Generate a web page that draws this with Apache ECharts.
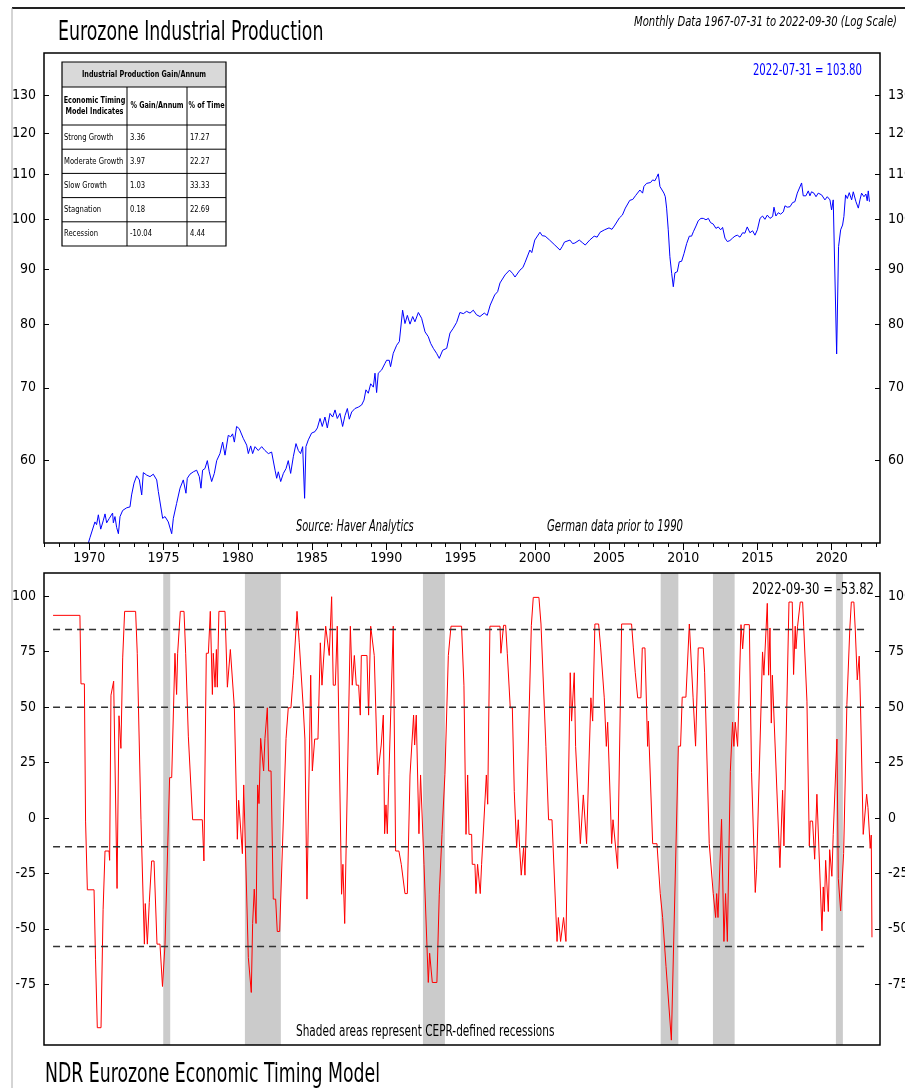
<!DOCTYPE html>
<html><head><meta charset="utf-8">
<script src="https://cdn.jsdelivr.net/npm/echarts@6/dist/echarts.min.js"></script>
<style>html,body{margin:0;padding:0;background:#fff}#c{width:905px;height:1088px}</style>
</head><body><div id="c"></div>
<script>
// ---------- DATA ----------
const title = 'Eurozone Industrial Production';
const subtitle = 'Monthly Data 1967-07-31 to 2022-09-30 (Log Scale)';
const ipLastLabel = '2022-07-31 = 103.80';
const etmLastLabel = '2022-09-30 = -53.82';
const bottomTitle = 'NDR Eurozone Economic Timing Model';
const sourceNote = 'Source: Haver Analytics';
const germanNote = 'German data prior to 1990';
const shadeNote = 'Shaded areas represent CEPR-defined recessions';

const yearTicks = [1970,1975,1980,1985,1990,1995,2000,2005,2010,2015,2020];
const ipTicks = [60,70,80,90,100,110,120,130];
const etmTicks = [-75,-50,-25,0,25,50,75,100];
const etmThresholds = [85, 50, -13, -58];

const tableTitle = 'Industrial Production Gain/Annum';
const tableHeader = ['Economic Timing\nModel Indicates', '% Gain/Annum', '% of Time'];
const tableRows = [
  ['Strong Growth', '3.36', '17.27'],
  ['Moderate Growth', '3.97', '22.27'],
  ['Slow Growth', '1.03', '33.33'],
  ['Stagnation', '0.18', '22.69'],
  ['Recession', '-10.04', '4.44']
];

// CEPR recessions (decimal years)
const recessions = [[1974.98,1975.45],[1980.48,1982.9],[1992.47,1993.95],[2008.48,2009.67],[2012.0,2013.46],[2020.28,2020.75]];

// Industrial production index [year, value]
const ipSeries = [
[1967.54,45.5],[1968.5,47.5],[1969.5,49.6],[1969.9,50.2],
[1970.05,51.0],[1970.38,52.7],[1970.49,52.4],[1970.61,53.5],[1970.77,51.9],[1970.95,52.9],[1971.06,53.6],[1971.17,52.6],[1971.35,53.1],[1971.57,53.7],[1971.62,52.6],[1971.73,53.3],[1971.84,52.1],[1971.96,51.4],
[1972.07,53.3],[1972.25,54.0],[1972.52,54.3],[1972.74,54.4],[1972.85,55.8],[1973.01,57.2],[1973.19,58.1],[1973.37,57.6],[1973.53,55.8],[1973.64,58.5],[1973.86,58.2],[1974.09,58.0],[1974.31,58.3],[1974.54,57.6],[1974.65,56.2],[1974.76,56.0],[1974.94,53.1],
[1975.10,53.3],[1975.32,52.7],[1975.55,51.4],[1975.66,53.1],[1975.88,54.8],[1976.11,56.6],[1976.33,57.6],[1976.51,56.0],[1976.60,57.8],[1976.78,58.3],[1977.01,58.6],[1977.23,58.8],[1977.41,58.0],[1977.52,56.6],[1977.63,58.8],[1977.79,59.0],[1977.95,60.0],
[1978.08,58.6],[1978.24,57.4],[1978.42,58.4],[1978.58,60.0],[1978.80,60.9],[1978.98,62.4],[1979.14,60.7],[1979.36,63.3],[1979.52,63.1],[1979.65,63.5],[1979.77,62.4],[1979.92,64.5],[1980.10,64.2],[1980.37,62.9],[1980.60,62.0],[1980.71,60.9],[1980.87,61.9],
[1981.00,60.9],[1981.16,61.8],[1981.38,61.3],[1981.61,61.8],[1981.83,61.3],[1982.06,60.9],[1982.28,61.1],[1982.51,58.8],[1982.62,57.8],[1982.73,58.6],[1982.89,57.4],[1983.07,58.4],[1983.25,59.0],[1983.40,60.0],[1983.56,58.4],[1983.74,60.5],[1983.92,62.2],
[1984.08,61.3],[1984.23,60.9],[1984.37,61.8],[1984.50,55.4],[1984.59,61.8],[1984.75,62.7],[1984.97,63.6],[1985.20,63.8],[1985.36,64.3],[1985.54,65.6],[1985.69,64.5],[1985.87,65.8],[1986.03,64.3],[1986.21,66.3],[1986.39,65.8],[1986.55,66.8],[1986.70,65.6],[1986.88,66.3],
[1987.06,64.5],[1987.22,66.0],[1987.38,67.0],[1987.51,65.5],[1987.67,66.5],[1987.89,67.0],[1988.12,67.2],[1988.34,67.5],[1988.50,68.2],[1988.63,69.7],[1988.79,69.2],[1988.95,70.6],[1989.13,70.1],[1989.24,72.2],[1989.35,69.3],[1989.46,72.2],[1989.69,72.7],[1989.91,73.7],
[1990.02,74.2],[1990.20,74.2],[1990.29,73.2],[1990.47,75.3],[1990.70,76.6],[1990.88,77.2],[1991.01,77.3],[1991.10,82.5],[1991.26,80.2],[1991.42,81.6],[1991.60,80.1],[1991.78,81.4],[1991.93,80.5],[1992.16,82.1],[1992.38,81.1],[1992.61,78.8],[1992.83,78.0],[1992.99,76.9],
[1993.17,76.1],[1993.39,75.3],[1993.57,74.5],[1993.80,75.8],[1994.07,76.1],[1994.29,78.6],[1994.51,79.4],[1994.74,80.4],[1994.96,82.1],[1995.19,81.9],[1995.41,82.3],[1995.64,82.0],[1995.86,82.5],[1996.08,81.7],[1996.31,81.4],
[1996.6,82.0],[1996.8,81.6],[1997.0,83.4],[1997.3,85.2],[1997.5,85.8],[1997.66,87.4],[1998.0,88.9],[1998.3,89.8],[1998.5,89.2],[1998.67,88.5],[1999.0,89.8],[1999.2,90.3],[1999.35,91.3],[1999.67,93.7],[1999.8,93.2],[2000.0,95.7],[2000.35,97.3],[2000.5,96.6],[2000.7,96.5],[2001.0,95.7],[2001.35,94.7],[2001.7,93.7],[2001.85,94.4],[2002.0,95.3],[2002.37,95.7],[2002.55,95.0],[2002.7,95.1],
[2003.0,95.7],[2003.2,95.2],[2003.4,94.7],[2003.7,95.7],[2004.0,96.5],[2004.2,96.3],[2004.4,97.3],[2004.7,97.8],[2005.0,98.2],[2005.2,97.9],[2005.4,98.8],[2005.7,100.3],[2005.9,100.9],[2006.1,102.4],[2006.4,104.1],[2006.6,104.3],[2006.8,105.2],
[2007.08,106.4],[2007.26,105.7],[2007.35,107.2],[2007.53,107.9],[2007.65,108.3],[2007.80,108.1],[2007.94,108.7],[2008.09,108.5],[2008.21,109.3],[2008.32,110.1],[2008.43,107.2],[2008.54,106.8],[2008.70,105.7],[2008.79,104.9],[2008.88,102.4],[2008.99,97.8],
[2009.10,92.4],[2009.22,89.2],[2009.33,86.7],[2009.44,89.3],[2009.60,89.5],[2009.73,91.4],[2009.89,91.5],[2010.05,93.0],[2010.23,95.0],[2010.41,96.5],[2010.56,96.5],[2010.68,97.4],[2010.86,98.6],[2011.01,99.7],[2011.19,100.2],[2011.35,100.2],[2011.53,99.9],[2011.69,100.2],[2011.84,99.3],
[2012.02,99.0],[2012.20,98.1],[2012.36,98.4],[2012.52,97.8],[2012.65,98.3],[2012.81,96.1],[2012.97,95.4],[2013.14,95.6],[2013.32,96.1],[2013.48,96.5],[2013.64,96.7],[2013.82,96.3],[2014.0,97.2],[2014.15,97.1],[2014.31,98.4],[2014.49,97.2],[2014.67,97.6],[2014.83,96.7],[2014.99,97.8],
[2015.17,100.2],[2015.34,100.7],[2015.50,100.0],[2015.66,100.9],[2015.84,100.2],[2016.02,100.6],[2016.11,102.6],[2016.24,100.7],[2016.40,101.4],[2016.56,101.1],[2016.74,101.6],[2016.85,102.9],[2017.0,102.6],[2017.19,102.7],[2017.36,103.6],[2017.52,103.8],[2017.68,105.7],[2017.81,105.3],[2017.97,108.0],
[2018.08,105.1],[2018.26,105.1],[2018.42,106.2],[2018.53,105.1],[2018.64,106.0],[2018.80,105.7],[2018.94,104.9],[2019.09,105.7],[2019.32,105.3],[2019.54,104.2],[2019.70,104.9],[2019.88,104.2],[2019.99,102.0],[2020.10,104.2],[2020.22,104.2],[2020.33,75.2],[2020.46,94.4],[2020.60,97.8],[2020.73,98.8],[2020.82,100.6],[2020.93,105.3],
[2021.05,104.5],[2021.18,105.8],[2021.34,104.2],[2021.45,106.0],[2021.63,103.8],[2021.79,102.4],[2021.90,104.2],[2022.01,105.7],[2022.17,104.9],[2022.30,105.5],[2022.39,104.0],[2022.46,106.2],[2022.54,103.8]
];

// Economic Timing Model [year, value]
const etmSeries = [
[1967.56,91.4],[1969.37,91.4],[1969.44,60.5],[1969.67,60.5],[1969.75,-1.4],[1969.87,-32.4],[1970.32,-32.4],[1970.42,-63.7],[1970.54,-94.6],[1970.79,-94.6],[1970.93,-41.4],[1971.06,-14.9],[1971.33,-14.9],[1971.37,-19.1],[1971.46,55.4],[1971.53,55.4],[1971.64,61.7],[1971.71,61.7],[1971.87,-31.8],
[1972.0,46.1],[1972.13,31.4],[1972.25,72.2],[1972.29,72.2],[1972.38,93.2],[1973.12,93.2],[1973.23,74.3],[1973.30,74.3],[1973.48,-0.6],[1973.55,-0.6],[1973.71,-56.9],[1973.77,-38.6],[1973.91,-56.9],[1974.04,-38.1],[1974.11,-38.1],[1974.20,-19.4],[1974.36,-19.4],[1974.56,-56.9],[1974.76,-56.9],[1974.93,-76.0],
[1975.10,-56.9],[1975.23,-56.9],[1975.41,18.2],[1975.55,18.2],[1975.77,74.3],[1975.88,55.7],[1975.95,74.3],[1976.04,74.3],[1976.13,93.2],[1976.38,93.2],[1976.49,74.3],[1976.56,74.3],[1976.67,36.9],[1976.80,36.9],[1976.96,-0.8],[1977.61,-0.8],[1977.72,-19.4],[1977.88,74.3],
[1978.02,74.3],[1978.15,93.2],[1978.29,55.7],[1978.35,74.3],[1978.47,59.0],[1978.56,76.0],[1978.62,59.0],[1978.73,93.2],[1979.14,93.2],[1979.30,59.0],[1979.39,59.0],[1979.50,76.0],[1979.61,76.0],[1979.77,49.7],[1979.97,-9.6],[1980.06,8.0],[1980.15,8.0],[1980.31,-16.1],[1980.40,14.9],
[1980.71,-62.9],[1980.80,-62.9],[1980.91,-78.7],[1981.0,-47.6],[1981.11,-32.1],[1981.23,-47.6],[1981.34,14.9],[1981.43,6.5],[1981.54,35.9],[1981.63,35.9],[1981.74,21.2],[1981.83,35.9],[1981.90,35.9],[1981.99,49.7],[1982.08,21.2],[1982.24,21.2],[1982.39,-36.6],[1982.55,-36.6],[1982.66,-51.2],[1982.82,-51.2],
[1983.25,35.9],[1983.31,35.9],[1983.40,49.7],[1983.58,49.7],[1983.74,64.4],[1983.87,64.4],[1983.99,93.2],[1984.14,79.0],[1984.21,79.0],[1984.41,49.7],[1984.52,35.6],[1984.66,-36.6],[1984.91,64.4],[1985.02,21.2],[1985.11,21.2],[1985.18,35.6],[1985.40,35.6],[1985.56,79.0],[1985.67,59.9],[1985.80,59.9],[1985.92,86.5],
[1986.05,86.5],[1986.16,73.3],[1986.32,99.8],[1986.43,59.9],[1986.57,59.9],[1986.70,86.5],[1986.99,-34.4],[1987.08,-20.9],[1987.20,-47.6],[1987.58,86.5],[1987.71,59.9],[1987.85,73.3],[1987.98,59.9],[1988.14,59.9],[1988.25,46.4],[1988.32,73.3],[1988.70,73.3],[1988.81,46.4],[1988.95,86.5],
[1989.08,86.5],[1989.19,73.3],[1989.42,19.4],[1989.55,19.4],[1989.66,32.9],[1989.80,46.4],[1989.89,-7.1],[1989.98,5.9],[1990.07,-7.1],[1990.18,19.7],[1990.47,86.5],[1990.63,-14.9],[1990.85,-14.9],[1991.01,-20.9],[1991.12,-20.9],[1991.26,-34.1],[1991.42,-34.1],[1991.60,19.4],[1991.71,19.4],[1991.84,46.4],[1991.91,32.9],
[1992.02,46.4],[1992.20,-7.1],[1992.31,19.4],[1992.43,19.4],[1992.54,-20.9],[1992.65,-20.9],[1992.83,-74.2],[1992.92,-61.0],[1993.01,-61.0],[1993.10,-74.2],[1993.41,-74.2],[1993.57,-34.4],[1993.64,-34.4],[1993.75,-7.4],[1993.84,-7.4],[1993.95,19.7],[1994.18,73.3],[1994.27,73.3],[1994.36,86.5],
[1995.07,86.5],[1995.23,59.9],[1995.30,59.9],[1995.37,-7.4],[1995.48,19.4],[1995.57,-7.4],[1995.75,-7.4],[1995.79,-20.9],[1995.97,-20.9],[1996.04,-34.1],[1996.15,-20.9],[1996.33,-34.1],[1996.42,-20.9],[1996.49,-20.9],[1996.74,19.4],[1996.83,6.2],[1996.98,86.5],
[1997.66,86.5],[1997.72,74.3],[1997.79,74.3],[1997.90,86.9],[1998.04,86.9],[1998.15,74.3],[1998.24,74.3],[1998.35,49.7],[1998.49,49.7],[1998.62,11.9],[1998.69,11.9],[1998.78,-13.4],[1998.89,-0.8],[1998.98,-13.4],[1999.09,-25.8],[1999.16,-25.8],[1999.25,-13.4],[1999.34,-25.8],[1999.77,86.9],[1999.90,99.5],
[2000.28,99.5],[2000.42,87.5],[2000.51,87.5],[2000.75,32.3],[2000.84,32.3],[2000.93,-0.8],[2001.16,-0.8],[2001.50,-55.7],[2001.59,-44.9],[2001.65,-44.9],[2001.74,-55.7],[2001.81,-55.7],[2001.94,-44.9],[2002.03,-44.9],[2002.10,-55.7],[2002.39,65.5],[2002.48,43.7],[2002.66,65.5],[2002.75,32.3],[2002.82,32.3],
[2003.07,-11.6],[2003.27,10.4],[2003.38,10.4],[2003.49,-11.6],[2003.61,-11.6],[2003.78,54.2],[2003.90,43.7],[2004.05,87.5],[2004.30,87.5],[2004.44,76.7],[2004.53,76.7],[2004.68,54.2],[2004.75,54.2],[2004.82,32.3],[2004.91,43.2],[2005.18,-11.6],[2005.27,-0.8],[2005.40,-0.8],[2005.58,-22.8],[2005.85,87.5],
[2006.52,87.5],[2006.64,76.7],[2006.77,65.5],[2006.88,65.5],[2006.93,54.2],[2007.15,54.2],[2007.24,76.7],[2007.42,76.7],[2007.53,49.7],[2007.60,32.3],[2007.65,43.7],[2007.94,-11.6],[2008.23,-11.6],[2008.45,-34.1],[2008.61,-44.9],[2008.84,-67.0],[2009.20,-100.2],[2009.67,32.4],[2009.82,32.4],
[2009.93,54.5],[2010.18,54.5],[2010.41,87.5],[2010.66,54.5],[2010.83,32.4],[2011.01,76.7],[2011.35,76.7],[2011.44,65.5],[2011.75,-11.6],[2011.84,-11.6],[2012.02,-34.1],[2012.09,-34.1],[2012.18,-44.9],[2012.25,-34.1],[2012.34,-44.9],[2012.58,-0.6],[2012.74,-55.7],[2012.85,-34.1],[2012.97,-55.7],[2013.06,-55.7],
[2013.17,20.9],[2013.23,20.9],[2013.32,43.2],[2013.41,32.3],[2013.50,43.2],[2013.59,43.2],[2013.66,32.3],[2013.75,32.3],[2013.89,87.2],[2014.0,76.3],[2014.11,87.2],[2014.45,87.2],[2014.56,86.3],[2014.60,20.4],[2014.69,20.4],[2014.85,-33.6],[2014.94,-23.1],[2015.03,-23.1],
[2015.34,74.9],[2015.43,64.4],[2015.55,64.4],[2015.66,96.8],[2015.75,64.4],[2015.84,85.7],[2015.93,42.8],[2016.0,64.4],[2016.51,-22.4],[2016.58,-22.4],[2016.69,12.5],[2016.78,-12.6],[2017.12,97.4],[2017.34,97.4],[2017.43,64.7],[2017.54,86.5],[2017.59,76.3],[2017.70,86.5],[2017.81,86.5],[2017.88,97.4],
[2018.04,97.4],[2018.11,86.5],[2018.20,86.5],[2018.33,52.7],[2018.49,-12.6],[2018.55,-1.4],[2018.71,-1.4],[2018.85,-18.6],[2019.0,10.7],[2019.34,-50.9],[2019.43,-31.1],[2019.50,-42.2],[2019.59,-19.1],[2019.77,-42.2],[2019.86,-14.3],[2020.01,-26.3],[2020.10,-7.4],[2020.19,-7.4],
[2020.35,35.6],[2020.44,-27.3],[2020.60,-41.9],[2020.80,-16.1],[2021.02,51.2],[2021.22,85.7],[2021.32,97.4],[2021.49,97.4],[2021.58,85.7],[2021.72,62.3],[2021.85,73.0],[2021.94,49.7],[2022.12,-7.4],[2022.35,10.7],[2022.44,4.7],[2022.59,-13.7],[2022.66,-7.7],[2022.71,-53.82]
];

const thresholdSpan = [1967.56, 2022.45];

// ---------- CHART ----------
const FONT = "'Liberation Sans Narrow','DejaVu Sans Condensed','Arial Narrow',sans-serif";
const chart = echarts.init(document.getElementById('c'), null, {renderer: 'canvas'});

const X_MIN = 1966.95, X_MAX = 2023.25;
const L = Math.log10;
const allYears = [];
for (let y = 1967; y <= 2023; y++) allYears.push(y);

const yLabelStyle = {fontFamily: FONT, fontSize: 14, color: '#000'};

function ipAxis(pos) {
  return {
    type: 'value', gridIndex: 0, position: pos, min: L(50.4), max: L(142.2),
    splitLine: {show: false}, axisLine: {show: false},
    axisTick: {show: true, inside: true, length: 5, lineStyle: {color: '#000'}, customValues: ipTicks.map(L)},
    axisLabel: Object.assign({margin: 8, customValues: ipTicks.map(L), formatter: v => String(Math.round(Math.pow(10, v)))}, yLabelStyle)
  };
}
function etmAxis(pos) {
  return {
    type: 'value', gridIndex: 1, position: pos, min: -102.4, max: 110.5,
    splitLine: {show: false}, axisLine: {show: false},
    axisTick: {show: true, inside: true, length: 5, lineStyle: {color: '#000'}, customValues: etmTicks},
    axisLabel: Object.assign({margin: 8, customValues: etmTicks}, yLabelStyle)
  };
}

const series = [
  {type: 'line', xAxisIndex: 0, yAxisIndex: 0, data: ipSeries.map(p => [p[0], L(p[1])]),
   showSymbol: false, clip: true, lineStyle: {color: '#0000ff', width: 1}, z: 5},
  {type: 'line', xAxisIndex: 2, yAxisIndex: 2, data: etmSeries,
   showSymbol: false, clip: true, lineStyle: {color: '#ff0000', width: 1}, z: 5,
   markArea: {silent: true, itemStyle: {color: '#cbcbcb'},
     data: recessions.map(r => [{xAxis: r[0]}, {xAxis: r[1]}])}}
];
etmThresholds.forEach(t => series.push({
  type: 'line', xAxisIndex: 2, yAxisIndex: 2, data: [[thresholdSpan[0], t], [thresholdSpan[1], t]],
  showSymbol: false, silent: true, lineStyle: {color: '#333', width: 1.5, type: [7, 5]}, z: 6
}));

// text helper with horizontal condensing
const txt = (t, x, y, font, color, align, sx) => ({type: 'text', x, y, z: 20, scaleX: sx || 1, originX: 0, originY: 0,
  style: {text: t, x: 0, y: 0, font, fill: color || '#000', textAlign: align || 'left', textVerticalAlign: 'middle', lineHeight: 11}});

// table graphics
const tbl = [];
const tx = 62, ty = 62, cw = [65, 60, 39], rh0 = 25, rh1 = 38, rh = 24.2;
const tw = cw[0] + cw[1] + cw[2];
const th = rh0 + rh1 + rh * tableRows.length;
const TS = 0.8;
tbl.push({type: 'rect', shape: {x: tx, y: ty, width: tw, height: rh0}, style: {fill: '#d9d9d9'}, z: 19});
tbl.push({type: 'rect', shape: {x: tx, y: ty, width: tw, height: th}, style: {fill: 'none', stroke: '#000', lineWidth: 1.2}, z: 21});
tbl.push({type: 'line', shape: {x1: tx, y1: ty + rh0, x2: tx + tw, y2: ty + rh0}, style: {stroke: '#000', lineWidth: 1}, z: 21});
let yy = ty + rh0 + rh1;
for (let i = 0; i < tableRows.length; i++) {
  tbl.push({type: 'line', shape: {x1: tx, y1: yy, x2: tx + tw, y2: yy}, style: {stroke: '#000', lineWidth: 1}, z: 21});
  yy += rh;
}
tbl.push({type: 'line', shape: {x1: tx + cw[0], y1: ty + rh0, x2: tx + cw[0], y2: ty + th}, style: {stroke: '#000', lineWidth: 1}, z: 21});
tbl.push({type: 'line', shape: {x1: tx + cw[0] + cw[1], y1: ty + rh0, x2: tx + cw[0] + cw[1], y2: ty + th}, style: {stroke: '#000', lineWidth: 1}, z: 21});
tbl.push(txt(tableTitle, tx + tw / 2, ty + rh0 / 2, 'bold 9px ' + FONT, '#000', 'center', TS));
tbl.push(txt(tableHeader[0], tx + cw[0] / 2, ty + rh0 + rh1 / 2, 'bold 9px ' + FONT, '#000', 'center', TS));
tbl.push(txt(tableHeader[1], tx + cw[0] + cw[1] / 2, ty + rh0 + rh1 / 2, 'bold 9px ' + FONT, '#000', 'center', TS));
tbl.push(txt(tableHeader[2], tx + cw[0] + cw[1] + cw[2] / 2, ty + rh0 + rh1 / 2, 'bold 9px ' + FONT, '#000', 'center', TS));
tableRows.forEach((r, i) => {
  const cy = ty + rh0 + rh1 + rh * i + rh / 2;
  tbl.push(txt(r[0], tx + 2, cy, '9.5px ' + FONT, '#000', 'left', TS));
  tbl.push(txt(r[1], tx + cw[0] + 3, cy, '9.5px ' + FONT, '#000', 'left', TS));
  tbl.push(txt(r[2], tx + cw[0] + cw[1] + 3, cy, '9.5px ' + FONT, '#000', 'left', TS));
});

const graphics = [
  {type: 'line', shape: {x1: 12, y1: 8, x2: 905, y2: 8}, style: {stroke: '#222', lineWidth: 2}, z: 20},
  {type: 'line', shape: {x1: 12, y1: 8, x2: 12, y2: 1088}, style: {stroke: '#aaa', lineWidth: 1}, z: 20},
  txt(title, 58, 33, '26px ' + FONT, '#000', 'left', 0.742),
  txt(subtitle, 897, 22, 'italic 14px ' + FONT, '#000', 'right', 0.797),
  txt(ipLastLabel, 862, 71, '15px ' + FONT, '#0000ff', 'right', 0.75),
  txt(sourceNote, 296, 527, 'italic 15px ' + FONT, '#000', 'left', 0.73),
  txt(germanNote, 547, 527, 'italic 15px ' + FONT, '#000', 'left', 0.75),
  txt(etmLastLabel, 874, 590, '15px ' + FONT, '#000', 'right', 0.86),
  txt(shadeNote, 296, 1032, '15px ' + FONT, '#000', 'left', 0.78),
  txt(bottomTitle, 45, 1075, '26px ' + FONT, '#000', 'left', 0.74)
].concat(tbl);

chart.setOption({
  animation: false,
  backgroundColor: '#fff',
  grid: [
    {left: 44, right: 25, top: 53, height: 490, show: true, borderColor: '#000', borderWidth: 1.5, backgroundColor: 'transparent', z: 10, outerBoundsMode: 'none', containLabel: false},
    {left: 44, right: 25, top: 573, height: 472, show: true, borderColor: '#000', borderWidth: 1.5, backgroundColor: 'transparent', z: 10, outerBoundsMode: 'none', containLabel: false}
  ],
  xAxis: [
    {type: 'value', gridIndex: 0, min: X_MIN, max: X_MAX, position: 'bottom', splitLine: {show: false}, axisLine: {show: false},
     axisTick: {show: true, length: 7, lineStyle: {color: '#000'}, customValues: yearTicks},
     axisLabel: {customValues: yearTicks, margin: 8, fontFamily: FONT, fontSize: 14, color: '#000', formatter: v => String(v)}},
    {type: 'value', gridIndex: 0, min: X_MIN, max: X_MAX, position: 'bottom', splitLine: {show: false}, axisLine: {show: false},
     axisTick: {show: true, length: 4, lineStyle: {color: '#000'}, customValues: allYears},
     axisLabel: {show: false}},
    {type: 'value', gridIndex: 1, min: X_MIN, max: X_MAX, show: false}
  ],
  yAxis: [ipAxis('left'), ipAxis('right'), etmAxis('left'), etmAxis('right')],
  series,
  graphic: graphics
});
</script>
</body></html>
